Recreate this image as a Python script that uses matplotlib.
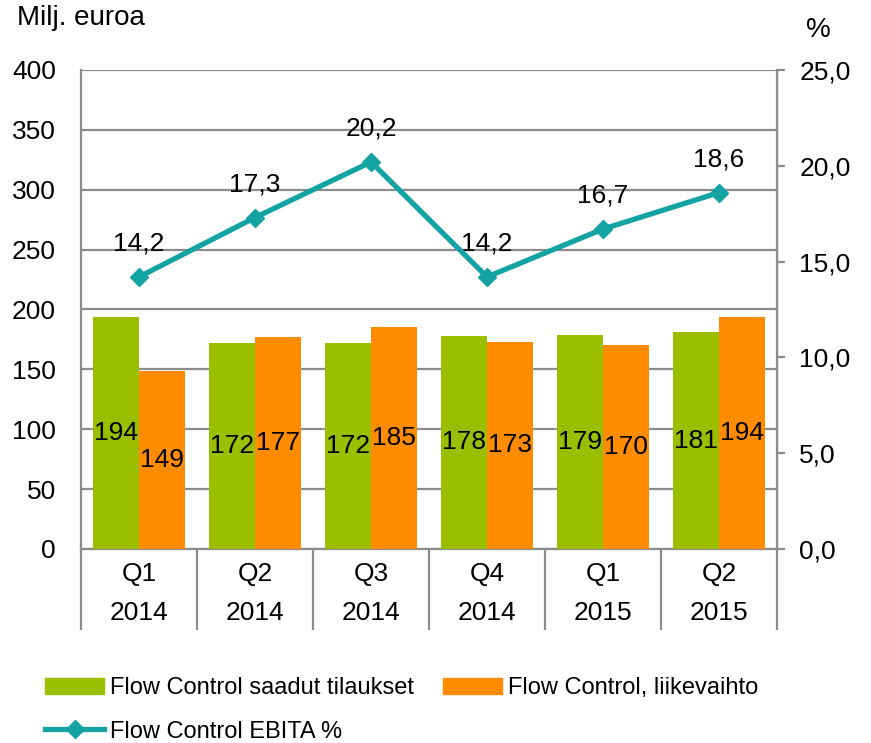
import numpy as np
import matplotlib
matplotlib.use("Agg")
import matplotlib.pyplot as plt
from matplotlib.patches import Patch
from matplotlib.lines import Line2D

plt.rcParams['font.family'] = ['Liberation Sans', 'DejaVu Sans']

# data
quarters = ["Q1", "Q2", "Q3", "Q4", "Q1", "Q2"]
years = ["2014", "2014", "2014", "2014", "2015", "2015"]
orders = [194, 172, 172, 178, 179, 181]
sales = [149, 177, 185, 173, 170, 194]
ebita_pct = [14.2, 17.3, 20.2, 14.2, 16.7, 18.6]

GREEN = "#9BBE00"
ORANGE = "#FF8C00"
TEAL = "#14A3A3"
GRID = "#8C8C8C"
FS = 19

fig = plt.figure(figsize=(8.71, 7.43), dpi=100)
ax = fig.add_axes([81 / 871, 1 - 549 / 743, 696 / 871, 479 / 743])
ax2 = ax.twinx()

x = np.arange(len(quarters))
w = 0.397
ax.bar(x - w / 2, orders, w, color=GREEN, zorder=3)
ax.bar(x + w / 2, sales, w, color=ORANGE, zorder=3)

for xi, v in zip(x - w / 2, orders):
    ax.text(xi, v / 2, str(v), ha="center", va="center", fontsize=FS, zorder=4)
for xi, v in zip(x + w / 2, sales):
    ax.text(xi, v / 2, str(v), ha="center", va="center", fontsize=FS, zorder=4)

ax.set_xlim(-0.5, len(quarters) - 0.5)
ax.set_ylim(0, 400)
ax.set_yticks(range(0, 401, 50))
ax.yaxis.grid(True, color=GRID, linewidth=1.6, zorder=0)
ax.set_axisbelow(True)
ax.tick_params(axis="y", length=0, pad=18, labelsize=FS)

# category separators as long outward ticks, labels on minor ticks
ax.set_xticks(np.arange(-0.5, len(quarters)), labels=[])
ax.tick_params(axis="x", which="major", length=58, width=1.6, color=GRID, direction="out")
ax.set_xticks(x, labels=[f"{q}\n{y}" for q, y in zip(quarters, years)], minor=True)
ax.tick_params(axis="x", which="minor", length=0, pad=9, labelsize=FS)
for lab in ax.get_xticklabels(minor=True):
    lab.set_linespacing(1.8)

ax.spines["top"].set_visible(False)
ax2.spines["top"].set_visible(False)
for sp in (ax.spines["left"], ax.spines["bottom"], ax2.spines["right"]):
    sp.set_color(GRID)
    sp.set_linewidth(1.6)
ax2.spines["left"].set_visible(False)
ax2.spines["bottom"].set_visible(False)

ax2.plot(x, ebita_pct, color=TEAL, linewidth=3.8, marker="D", markersize=9, zorder=5)
ax2.set_ylim(0, 25)
ax2.set_yticks(np.arange(0, 25.1, 5))
ax2.set_yticklabels([f"{t:.1f}".replace(".", ",") for t in np.arange(0, 25.1, 5)])
ax2.tick_params(axis="y", length=6, width=1.6, color=GRID, pad=10, labelsize=FS)
for xi, v in zip(x, ebita_pct):
    ax2.annotate(f"{v:.1f}".replace(".", ","), (xi, v), xytext=(0, 24), textcoords="offset points",
                 ha="center", va="center", fontsize=FS)

fig.text(17 / 871, 1 - 18 / 743, "Milj. euroa", fontsize=20, ha="left", va="center")
fig.text(818 / 871, 1 - 30 / 743, "%", fontsize=20, ha="center", va="center")

handles = [Patch(color=GREEN), Line2D([], [], color=TEAL, linewidth=3.8, marker="D", markersize=9),
           Patch(color=ORANGE)]
labels = ["Flow Control saadut tilaukset", "Flow Control EBITA %", "Flow Control, liikevaihto"]
fig.legend(handles, labels, loc="upper left", bbox_to_anchor=(36 / 871, 1 - 668 / 743), ncol=2,
           frameon=False, fontsize=17, handlelength=2.5, handletextpad=0.25, columnspacing=1.2,
           labelspacing=0.9, borderaxespad=0)

fig.savefig("out.png", dpi=100)
